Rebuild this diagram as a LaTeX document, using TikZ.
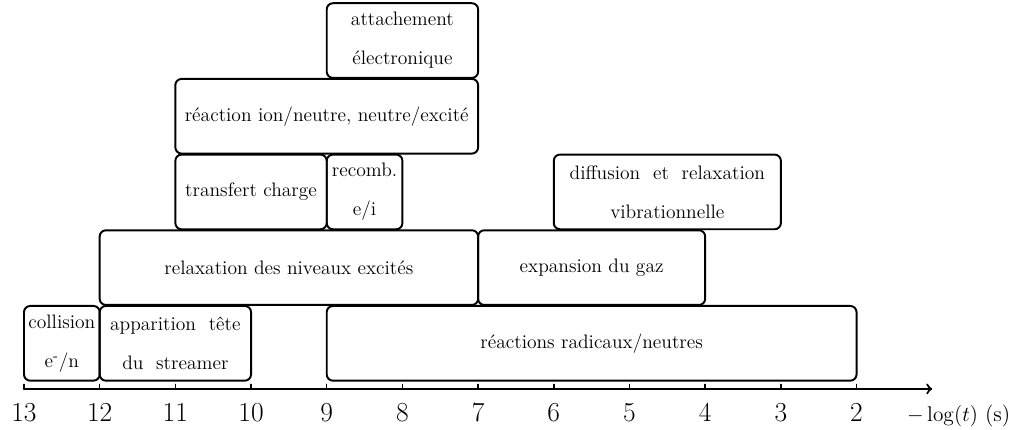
\documentclass[tikz,border=0pt]{standalone}
\begin{document}
\begin{tikzpicture}[x=1.5cm,y=1cm,>=to,line join=round,line cap=round,
	box/.style={draw,line width=1.1pt,rounded corners=3.5pt,minimum height=1.48cm,inner sep=2pt,align=center,font=\fontsize{11}{22}\selectfont},
	tick/.style={anchor=base,font=\fontsize{15.5}{18}\selectfont}]
	\useasboundingbox (-0.317,-0.812) rectangle (13.107,7.708);
	\draw [->,line width=1.2pt] (0,0) coordinate (O) -- (12,0) coordinate (E);
	\foreach \d in {2,...,13}{
		\draw [line width=0.8pt] (13-\d,0) -- ++(0,0.09);
		\node [tick] (t\d) at (13-\d,-0.645) {\d};
	}
	\node [anchor=base,font=\fontsize{12.4}{14}\selectfont] (lbl) at (12.35,-0.645) {$-\log(t)$ (s)};
	% ligne 1
	\node [box,minimum width=1.5cm] (coll) at (0.5,0.904) {collision\\e\textsuperscript{-}/n};
	\node [box,minimum width=3cm] (app) at (2,0.904) {apparition~\ tête\\du~\ streamer};
	\node [box,minimum width=10.5cm] (rad) at (7.5,0.904) {réactions radicaux/neutres};
	% ligne 2
	\node [box,minimum width=7.5cm] (relax) at (3.5,2.404) {relaxation des niveaux excités};
	\node [box,minimum width=4.5cm] (exp) at (7.5,2.404) {expansion du gaz};
	% ligne 3
	\node [box,minimum width=3cm] (trans) at (3,3.904) {transfert charge};
	\node [box,minimum width=1.5cm] (recomb) at (4.5,3.904) {recomb.\\e/i};
	\node [box,minimum width=4.5cm] (diff) at (8.5,3.904) {diffusion~\ et~\ relaxation\\vibrationnelle};
	% ligne 4
	\node [box,minimum width=6cm] (ion) at (4,5.404) {réaction ion/neutre, neutre/excité};
	% ligne 5
	\node [box,minimum width=3cm] (att) at (5,6.904) {attachement\\électronique};
\end{tikzpicture}
\end{document}
